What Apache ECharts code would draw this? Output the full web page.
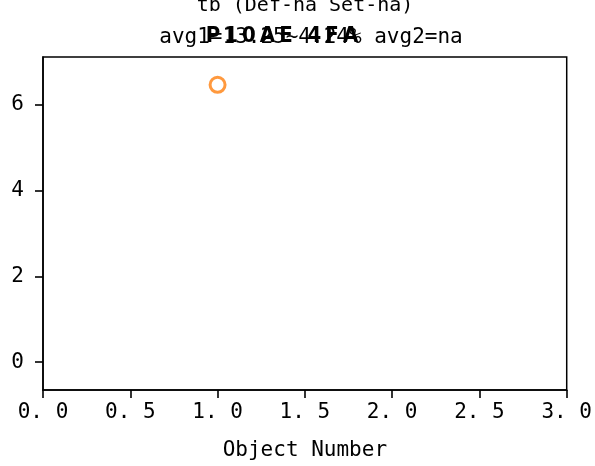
<!DOCTYPE html>
<html><head><meta charset="utf-8">
<script src="https://cdn.jsdelivr.net/npm/echarts@6/dist/echarts.min.js"></script>
<style>html,body{margin:0;padding:0;background:#fff}#c{width:595px;height:466px}</style>
</head><body><div id="c"></div>
<script>
const objectNumbers = [1.0];
const values = [6.47];
const xTicks = [0, 0.5, 1.0, 1.5, 2.0, 2.5, 3.0];
const yTicks = [0, 2, 4, 6];
const titleLine1 = 'tb (Def-na Set-na)';
const titleLine2 = 'avg1=13.25~4.24% avg2=na';
const overlayTitle = 'P10AE 4FA';
const xName = 'Object Number';

const mono = 'DejaVu Sans Mono';
const overlayRich = overlayTitle.split('').map(ch => '{c|' + ch + '}').join('');
const chart = echarts.init(document.getElementById('c'), null, {renderer:'canvas'});
chart.setOption({
  animation:false,
  backgroundColor:'#fff',
  title:[
    {text:titleLine1, left:300, top:-9, textAlign:'center', textStyle:{fontFamily:mono, fontSize:20, fontWeight:'normal', color:'#000'}},
    {text:titleLine2, left:306, top:22, textAlign:'center', textStyle:{fontFamily:mono, fontSize:21, fontWeight:'normal', color:'#000'}},
    {text:overlayRich, left:277, top:20, textAlign:'center', textStyle:{color:'#000', rich:{
      c:{fontFamily:'DejaVu Sans Condensed', fontSize:22, fontWeight:'bold', color:'#000', padding:[0,2,0,2]}
    }}}
  ],
  grid:{left:43, right:26, top:57, bottom:75, show:true, borderColor:'#000', borderWidth:1.5, containLabel:false},
  xAxis:{
    type:'value', min:0, max:3, interval:0.5,
    name:xName, nameLocation:'middle', nameGap:50,
    nameTextStyle:{fontFamily:mono, fontSize:21, color:'#000'},
    axisLine:{onZero:false, lineStyle:{color:'#000', width:1.5}},
    axisTick:{show:true, inside:false, length:8, lineStyle:{color:'#000', width:1.6}},
    axisLabel:{fontFamily:mono, fontSize:21, color:'#000', margin:12, formatter:v=>v.toFixed(1).replace('.', '. ')},
    splitLine:{show:false}
  },
  yAxis:{
    type:'value', min:-0.65, max:7.12,
    axisLine:{show:true, onZero:false, lineStyle:{color:'#000', width:1.5}},
    axisTick:{show:true, length:8, lineStyle:{color:'#000', width:1.6}, customValues:yTicks},
    axisLabel:{fontFamily:mono, fontSize:21, color:'#000', margin:19, customValues:yTicks},
    splitLine:{show:false}
  },
  series:[{
    type:'scatter',
    data:objectNumbers.map((x,i)=>[x, values[i]]),
    symbol:'circle', symbolSize:15,
    itemStyle:{color:'rgba(0,0,0,0)', borderColor:'#ff7f0e', borderWidth:3}
  }]
});
</script></body></html>
